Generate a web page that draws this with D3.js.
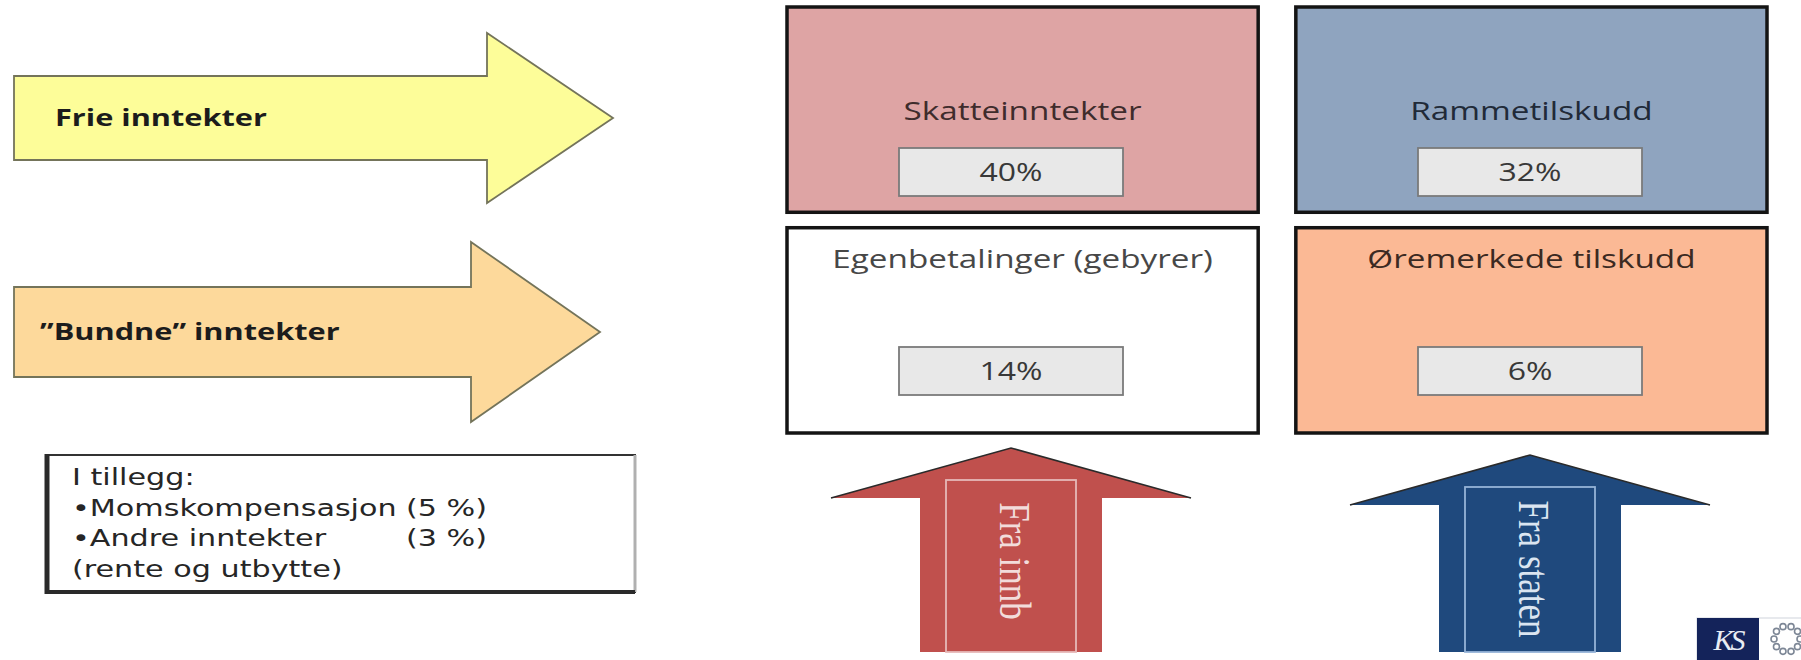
<!DOCTYPE html>
<html>
<head>
<meta charset="utf-8">
<script src="https://cdn.jsdelivr.net/npm/d3@7"></script>
<style>
  html, body { margin: 0; background: #fff; }
  svg { display: block; }
</style>
</head>
<body>
<div id="chart"></div>
<script>
// --- data ---
const flowLabels = ["Frie inntekter", "\u201DBundne\u201D inntekter"];
const sourceNames = ["Skatteinntekter", "Rammetilskudd", "Egenbetalinger (gebyrer)", "Øremerkede tilskudd"];
const sourceShares = [40, 32, 14, 6];
const payerLabels = ["Fra innb", "Fra staten"];
const extraTitle = "I tillegg:";
const extraItems = ["Momskompensasjon", "Andre inntekter"];
const extraShares = [5, 3];
const extraNote = "(rente og utbytte)";

// --- styling ---
const flowFills = ["#fdfd99", "#fdd99b"];
const sourceFills = ["#dea4a4", "#8fa4bf", "#ffffff", "#fbb995"];
const titleColors = ["#3f2c2c", "#212a38", "#474747", "#3b2a22"];
const payerFills = ["#c0504d", "#1f497d"];
const payerInner = ["#e6b9b8", "#95b3d7"];
const payerText = ["#f2dcdb", "#dbe5f1"];

const width = 1801, height = 660;
const SX = 1.28; // the slide is stretched sideways, so is its text
const sans = "'Open Sans', 'Liberation Sans', sans-serif";

const svg = d3.select("#chart").append("svg")
  .attr("width", width).attr("height", height)
  .attr("viewBox", [0, 0, width, height]);

const stretch = (x, y, extra = "") => `translate(${x},${y}) scale(${SX},1)${extra}`;

// --- left: flow arrows ---
const flowY = d3.scalePoint().domain(flowLabels).range([118, 332]);
const flowGeom = [
  { shaft: 42, head: 85, neck: 487, tip: 613, textX: 55 },
  { shaft: 45, head: 90, neck: 471, tip: 600, textX: 40 },
];
const left = 14;

const flows = svg.append("g").selectAll("g").data(flowLabels).join("g");
flows.append("path")
  .attr("d", (d, i) => {
    const g = flowGeom[i], cy = flowY(d);
    return d3.line()([
      [left, cy - g.shaft], [g.neck, cy - g.shaft], [g.neck, cy - g.head],
      [g.tip, cy], [g.neck, cy + g.head], [g.neck, cy + g.shaft], [left, cy + g.shaft],
    ]) + "Z";
  })
  .attr("fill", (d, i) => flowFills[i])
  .attr("stroke", "#74745a")
  .attr("stroke-width", 1.8);
flows.append("text")
  .attr("transform", (d, i) => stretch(flowGeom[i].textX, flowY(d) + 8))
  .attr("font-family", sans)
  .attr("font-weight", 700)
  .attr("font-size", 24)
  .attr("fill", "#1c1c1c")
  .text(d => d);

// --- left: "I tillegg" box ---
const note = svg.append("g");
const nb = { x0: 47, x1: 635, y0: 455, y1: 592 };
note.append("rect")
  .attr("x", nb.x0).attr("y", nb.y0)
  .attr("width", nb.x1 - nb.x0).attr("height", nb.y1 - nb.y0)
  .attr("fill", "#fff").attr("stroke", "#333").attr("stroke-width", 2);
note.append("line").attr("x1", nb.x1).attr("x2", nb.x1).attr("y1", nb.y0).attr("y2", nb.y1)
  .attr("stroke", "#b0b0b0").attr("stroke-width", 3);
note.append("line").attr("x1", nb.x0).attr("x2", nb.x0).attr("y1", nb.y0 - 1).attr("y2", nb.y1 + 2)
  .attr("stroke", "#2a2a2a").attr("stroke-width", 5);
note.append("line").attr("x1", nb.x0).attr("x2", nb.x1).attr("y1", nb.y1).attr("y2", nb.y1)
  .attr("stroke", "#2a2a2a").attr("stroke-width", 4);

const noteLines = [
  { text: extraTitle },
  { text: `\u2022${extraItems[0]}`, right: `(${extraShares[0]} %)` },
  { text: `\u2022${extraItems[1]}`, right: `(${extraShares[1]} %)` },
  { text: extraNote },
];
const noteY = d3.scalePoint().domain(d3.range(noteLines.length)).range([485, 577]);
const noteText = note.selectAll("g.ln").data(noteLines).join("g").attr("class", "ln")
  .attr("font-family", "'DejaVu Sans', Verdana, sans-serif")
  .attr("font-size", 23.6)
  .attr("fill", "#262626");
noteText.append("text")
  .attr("transform", (d, i) => stretch(72, noteY(i)))
  .text(d => d.text);
noteText.filter(d => d.right).append("text")
  .attr("transform", d => stretch(487, noteY(noteLines.indexOf(d))))
  .attr("text-anchor", "end")
  .text(d => d.right);

// --- right: income boxes ---
const col = d3.scaleBand().domain([0, 1]).range([787, 1767]).paddingInner(0.074);
const row = d3.scaleBand().domain([0, 1]).range([7, 433]).paddingInner(0.07);
const valueX = d3.scalePoint().domain([0, 1]).range([1011, 1530]);
const titleY = [120, 268];
const valueY = [148, 347];
const vw = 224, vh = 48;

const boxes = svg.append("g").selectAll("g").data(sourceNames).join("g");
boxes.append("rect")
  .attr("x", (d, i) => col(i % 2)).attr("y", (d, i) => row(Math.floor(i / 2)))
  .attr("width", col.bandwidth()).attr("height", row.bandwidth())
  .attr("fill", (d, i) => sourceFills[i])
  .attr("stroke", "#141414").attr("stroke-width", 3.5);
boxes.append("text")
  .attr("transform", (d, i) => stretch(col(i % 2) + col.bandwidth() / 2, titleY[Math.floor(i / 2)]))
  .attr("text-anchor", "middle")
  .attr("font-family", sans)
  .attr("font-size", 26)
  .attr("fill", (d, i) => titleColors[i])
  .text(d => d);
boxes.append("rect")
  .attr("x", (d, i) => valueX(i % 2) - vw / 2).attr("y", (d, i) => valueY[Math.floor(i / 2)])
  .attr("width", vw).attr("height", vh)
  .attr("fill", "#e8e8e8").attr("stroke", "#7a7a7a").attr("stroke-width", 1.8);
boxes.append("text")
  .attr("transform", (d, i) => stretch(valueX(i % 2), valueY[Math.floor(i / 2)] + vh / 2 + 9))
  .attr("text-anchor", "middle")
  .attr("font-family", sans)
  .attr("font-weight", 500)
  .attr("font-size", 25)
  .attr("fill", "#383838")
  .text((d, i) => `${sourceShares[i]}%`);

// --- bottom: up arrows (who pays) ---
const payX = d3.scalePoint().domain(payerLabels).range([1011, 1530]);
const payTip = [448, 455];
const labelMid = [561, 569];
const headH = 50, headW = 180, shaftW = 91, innerW = 65, innerTop = 32, bottom = 652;

const payers = svg.append("g").selectAll("g").data(payerLabels).join("g");
payers.append("path")
  .attr("d", (d, i) => {
    const cx = payX(d), t = payTip[i], b = t + headH;
    return d3.line()([
      [cx - shaftW, bottom], [cx - shaftW, b], [cx - headW, b], [cx, t],
      [cx + headW, b], [cx + shaftW, b], [cx + shaftW, bottom],
    ]) + "Z";
  })
  .attr("fill", (d, i) => payerFills[i]);
payers.append("path")
  .attr("d", (d, i) => {
    const cx = payX(d), t = payTip[i], b = t + headH;
    return d3.line()([[cx - headW, b], [cx, t], [cx + headW, b]]);
  })
  .attr("fill", "none").attr("stroke", "#2a2a2a").attr("stroke-width", 1.6);
payers.append("rect")
  .attr("x", d => payX(d) - innerW).attr("y", (d, i) => payTip[i] + innerTop)
  .attr("width", innerW * 2).attr("height", (d, i) => bottom - payTip[i] - innerTop)
  .attr("fill", "none")
  .attr("stroke", (d, i) => payerInner[i]).attr("stroke-width", 1.8);
payers.append("text")
  .attr("transform", (d, i) => stretch(payX(d) - 11, labelMid[i], " rotate(90)"))
  .attr("text-anchor", "middle")
  .attr("font-family", "'Liberation Serif', 'DejaVu Serif', serif")
  .attr("font-size", 35)
  .attr("fill", (d, i) => payerText[i])
  .text(d => d);

// --- logo corner ---
const logo = svg.append("g");
logo.append("rect").attr("x", 1697).attr("y", 618).attr("width", 110).attr("height", 44)
  .attr("fill", "#fff").attr("stroke", "#d0d4dc").attr("stroke-width", 1);
logo.append("rect").attr("x", 1697).attr("y", 618).attr("width", 62).attr("height", 44)
  .attr("fill", "#14235a");
logo.append("text").attr("x", 1728).attr("y", 650)
  .attr("text-anchor", "middle")
  .attr("font-family", "'Liberation Serif', serif").attr("font-style", "italic")
  .attr("font-size", 30).attr("fill", "#e8ecf4").attr("letter-spacing", -3)
  .text("KS");
const ring = d3.range(10).map(k => (k / 10) * 2 * Math.PI);
logo.selectAll("circle").data(ring).join("circle")
  .attr("cx", a => 1787 + 13 * Math.cos(a)).attr("cy", a => 639 + 13 * Math.sin(a))
  .attr("r", 3).attr("fill", "#fff").attr("stroke", "#7d8796").attr("stroke-width", 1.6);
</script>
</body>
</html>
